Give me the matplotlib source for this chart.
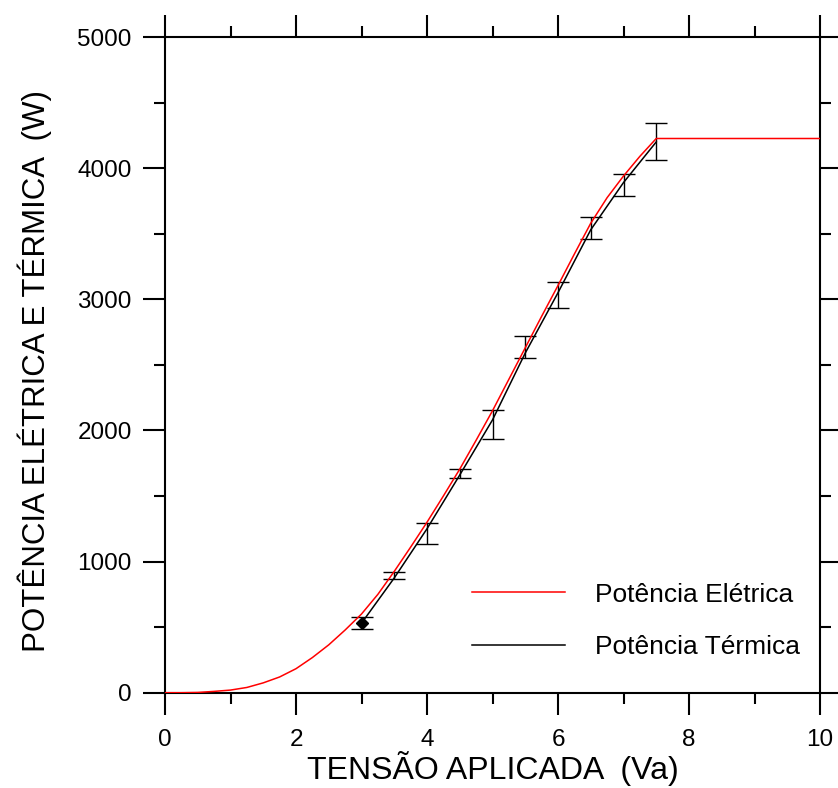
import matplotlib
matplotlib.use("Agg")
import matplotlib.pyplot as plt
from matplotlib.ticker import MultipleLocator

plt.rcParams['font.family'] = ['Liberation Sans', 'DejaVu Sans']

# Potência Elétrica (red curve)
v_elet = [0, 0.25, 0.5, 0.75, 1, 1.25, 1.5, 1.75, 2, 2.25, 2.5, 2.75, 3, 3.25,
          3.5, 3.75, 4, 4.25, 4.5, 4.75, 5, 5.25, 5.5, 5.75, 6, 6.25, 6.5,
          6.75, 7, 7.25, 7.5, 10]
p_elet = [0, 0, 2, 10, 20, 40, 75, 120, 183, 268, 365, 478, 600, 750,
          925, 1110, 1300, 1500, 1705, 1925, 2150, 2390, 2630, 2870, 3105, 3345, 3580,
          3775, 3940, 4090, 4226, 4226]

# Potência Térmica (black curve)
v_term = [3, 3.5, 4, 4.5, 5, 5.5, 6, 6.5, 7, 7.5]
p_term = [530, 875, 1250, 1660, 2080, 2590, 3050, 3530, 3890, 4200]

# Measured points with error bars
v_meas = [3, 3.5, 4, 4.5, 5, 5.5, 6, 6.5, 7, 7.5]
p_meas = [530, 895, 1213, 1670, 2045, 2635, 3033, 3546, 3872, 4204]
p_err = [46, 29, 80, 35, 110, 85, 102, 85, 85, 143]

labels = ["Potência Elétrica", "Potência Térmica"]

fig = plt.figure(figsize=(8.38, 7.88), dpi=100)
ax = fig.add_axes([165 / 838, 1 - 692.7 / 788, 655 / 838, 655.7 / 788])

ax.errorbar(v_meas, p_meas, yerr=p_err, fmt='none', ecolor='black',
            elinewidth=1.0, capsize=8, capthick=1.0, zorder=2)
ax.plot(v_meas[0], p_meas[0], marker='D', color='black', ms=6, ls='none', zorder=4)
ax.plot(v_term, p_term, color='black', lw=1.1, label=labels[1], zorder=3)
ax.plot(v_elet, p_elet, color='red', lw=1.1, label=labels[0], zorder=3)

ax.set_xlim(0, 10)
ax.set_ylim(0, 5000)
ax.xaxis.set_major_locator(MultipleLocator(2))
ax.xaxis.set_minor_locator(MultipleLocator(1))
ax.yaxis.set_major_locator(MultipleLocator(1000))
ax.yaxis.set_minor_locator(MultipleLocator(500))

for s in ax.spines.values():
    s.set_linewidth(1.5)
ax.tick_params(which='both', direction='out', top=True, right=True, width=1.5)
ax.tick_params(which='major', length=16, labelsize=17.5)
ax.tick_params(which='minor', length=8)
ax.tick_params(axis='x', which='major', pad=10)
ax.tick_params(axis='y', which='major', pad=8)

ax.set_xlabel("TENSÃO APLICADA  (Va)", fontsize=23)
ax.set_ylabel("POTÊNCIA ELÉTRICA E TÉRMICA  (W)", fontsize=22.5)
ax.xaxis.set_label_coords(0.5, -0.089)
ax.yaxis.set_label_coords(-0.173, 0.49)

h, l = ax.get_legend_handles_labels()
order = [l.index(labels[0]), l.index(labels[1])]
ax.legend([h[i] for i in order], [l[i] for i in order], loc='upper left',
          bbox_to_anchor=(0.469, 0.168), frameon=False, fontsize=19,
          handlelength=3.52, handletextpad=1.14, labelspacing=1.08,
          borderpad=0, borderaxespad=0)

fig.savefig("out.png", dpi=100)
